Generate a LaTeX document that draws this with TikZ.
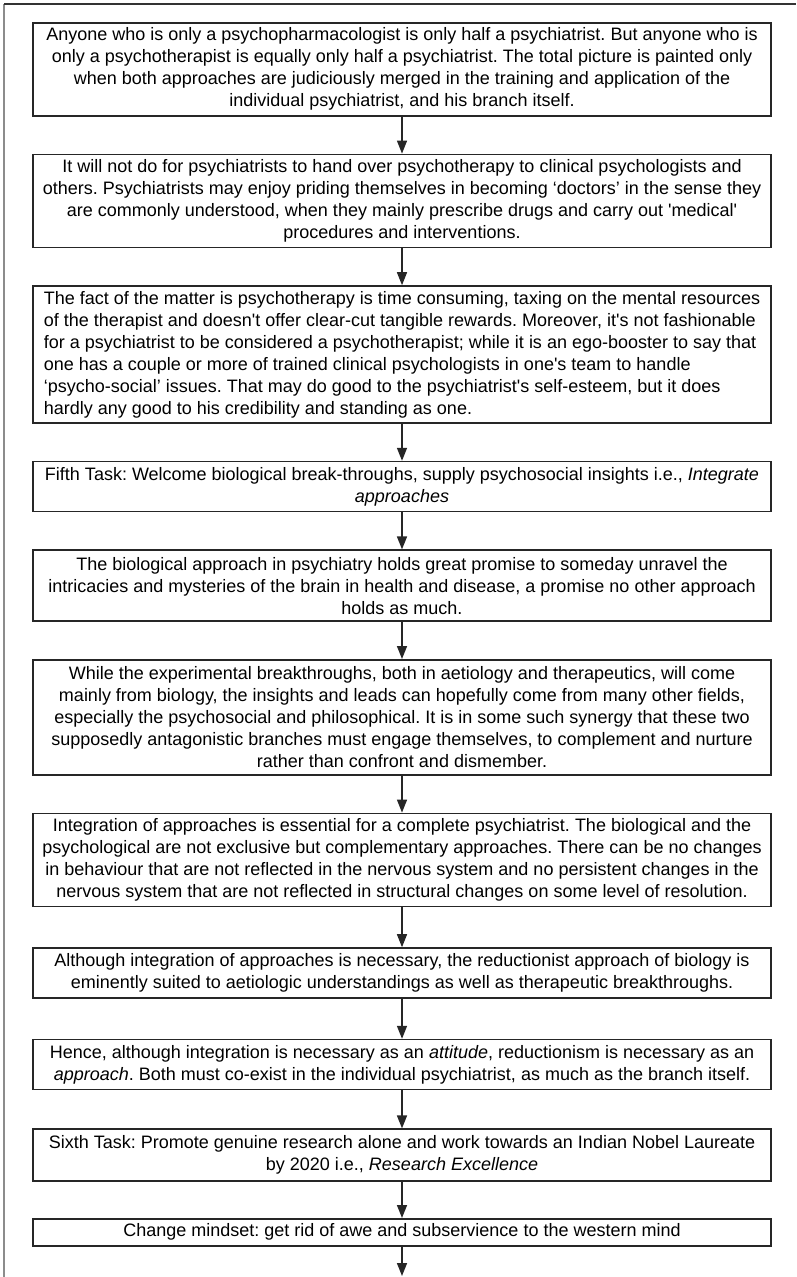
\documentclass[tikz,border=0pt]{standalone}
\usepackage{fontspec}
\setmainfont{Liberation Sans}
\usetikzlibrary{positioning,arrows.meta}
\frenchspacing

\begin{document}
\begin{tikzpicture}[x=1pt, y=1pt,
		flowbox/.style={draw=black!85, line width=1.6pt, minimum width=738pt, inner xsep=5pt, inner ysep=2pt, align=center, font=\fontsize{18}{22}\selectfont},
		flowarrow/.style={draw=black!85, line width=1.5pt, -{Triangle[length=13pt,width=10pt]}},
		node distance=37pt]
			%%%%% START %%%%%
			
			\useasboundingbox (0,0) rectangle (796,-1277);
			\draw[line width=1.3pt, color=black!45] (4,-1277) -- (4,-4);
			\draw[line width=1.3pt, color=black!80] (4,-4) -- (796,-4);
			
			\node[flowbox, minimum height=93pt, anchor=north] (anyone) at (402,-22) {Anyone who is only a psychopharmacologist is only half a psychiatrist. But anyone who is\\ only a psychotherapist is equally only half a psychiatrist. The total picture is painted only\\ when both approaches are judiciously merged in the training and application of the\\ individual psychiatrist, and his branch itself.};
			\node[flowbox, minimum height=93pt, below=of anyone] (handover) {It will not do for psychiatrists to hand over psychotherapy to clinical psychologists and\\ others. Psychiatrists may enjoy priding themselves in becoming ‘doctors’ in the sense they\\ are commonly understood, when they mainly prescribe drugs and carry out \textquotesingle medical\textquotesingle\\ procedures and interventions.};
			\node[flowbox, minimum height=137pt, align=left, below=of handover] (fact) {The fact of the matter is psychotherapy is time consuming, taxing on the mental resources\\ of the therapist and doesn\textquotesingle t offer clear-cut tangible rewards. Moreover, it\textquotesingle s not fashionable\\ for a psychiatrist to be considered a psychotherapist; while it is an ego-booster to say that\\ one has a couple or more of trained clinical psychologists in one\textquotesingle s team to handle\\ ‘psycho-social’ issues. That may do good to the psychiatrist\textquotesingle s self-esteem, but it does\\ hardly any good to his credibility and standing as one.};
			\node[flowbox, minimum height=50pt, below=of fact] (fifth) {Fifth Task: Welcome biological break-throughs, supply psychosocial insights i.e., \textit{Integrate}\\ \textit{approaches}};
			\node[flowbox, minimum height=71pt, below=of fifth] (promise) {The biological approach in psychiatry holds great promise to someday unravel the\\ intricacies and mysteries of the brain in health and disease, a promise no other approach\\ holds as much.};
			\node[flowbox, minimum height=115pt, below=of promise] (synergy) {While the experimental breakthroughs, both in aetiology and therapeutics, will come\\ mainly from biology, the insights and leads can hopefully come from many other fields,\\ especially the psychosocial and philosophical. It is in some such synergy that these two\\ supposedly antagonistic branches must engage themselves, to complement and nurture\\ rather than confront and dismember.};
			\node[flowbox, minimum height=93pt, below=of synergy] (integration) {Integration of approaches is essential for a complete psychiatrist. The biological and the\\ psychological are not exclusive but complementary approaches. There can be no changes\\ in behaviour that are not reflected in the nervous system and no persistent changes in the\\ nervous system that are not reflected in structural changes on some level of resolution.};
			\node[flowbox, minimum height=50pt, below=40pt of integration] (reductionist) {Although integration of approaches is necessary, the reductionist approach of biology is\\ eminently suited to aetiologic understandings as well as therapeutic breakthroughs.};
			\node[flowbox, minimum height=50pt, below=40pt of reductionist] (attitude) {Hence, although integration is necessary as an \textit{attitude}, reductionism is necessary as an\\ \textit{approach}. Both must co-exist in the individual psychiatrist, as much as the branch itself.};
			\node[flowbox, minimum height=52pt, below=38pt of attitude] (sixth) {Sixth Task: Promote genuine research alone and work towards an Indian Nobel Laureate\\ by 2020 i.e., \textit{Research Excellence}};
			\node[flowbox, minimum height=27pt, below=36pt of sixth] (mindset) {Change mindset: get rid of awe and subservience to the western mind};
			\coordinate (out) at (402,-1276);
			
			\draw[flowarrow] (anyone) -- (handover);
			\draw[flowarrow] (handover) -- (fact);
			\draw[flowarrow] (fact) -- (fifth);
			\draw[flowarrow] (fifth) -- (promise);
			\draw[flowarrow] (promise) -- (synergy);
			\draw[flowarrow] (synergy) -- (integration);
			\draw[flowarrow] (integration) -- (reductionist);
			\draw[flowarrow] (reductionist) -- (attitude);
			\draw[flowarrow] (attitude) -- (sixth);
			\draw[flowarrow] (sixth) -- (mindset);
			\draw[flowarrow] (mindset) -- (out);
			
			%%%%% END %%%%%
\end{tikzpicture}
\end{document}
